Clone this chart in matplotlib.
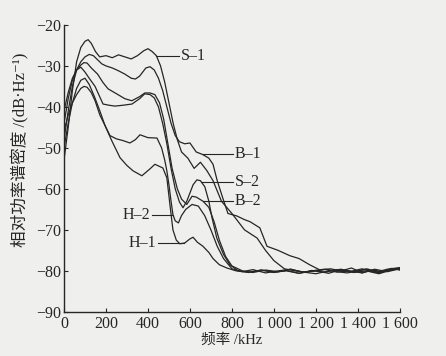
import numpy as np
import matplotlib
matplotlib.use('Agg')
import matplotlib.pyplot as plt

serif = ['Liberation Serif', 'Noto Sans CJK SC', 'DejaVu Sans']
plt.rcParams['font.family'] = serif

# frequency (kHz) and relative PSD (dB/Hz)
f_s1 = [0, 20, 40, 60, 80, 100, 115, 130, 150, 170, 200, 230, 260, 290, 320, 350, 380, 400, 420,
        440, 460, 480, 500, 520, 540, 560, 590, 620, 650, 680, 710, 750, 800, 860, 920, 960, 1000,
        1050, 1100, 1150, 1200, 1250, 1300, 1350, 1400, 1450, 1500, 1550, 1600]
v_s1 = [-53, -45, -36, -29, -25.5, -24, -23.6, -24.5, -26.5, -27.8, -27.5, -28, -27.3, -27.8, -28.3,
        -27.5, -26.3, -25.8, -26.5, -27.5, -30, -34, -39, -44, -48, -51, -52.5, -55, -53.5, -55.5,
        -58, -63, -66, -70, -72, -75, -77.5, -79.5, -80, -80.3, -80, -79.6, -80.2, -80.5, -80,
        -79.6, -80.4, -79.8, -79.3]

f_b1 = [0, 20, 40, 60, 80, 100, 120, 140, 160, 180, 200, 230, 260, 290, 320, 340, 360, 390, 410,
        430, 450, 470, 490, 510, 530, 550, 575, 600, 630, 660, 690, 710, 730, 755, 781, 823, 860,
        886, 933, 967, 1020, 1076, 1120, 1170, 1220, 1270, 1320, 1370, 1420, 1470, 1520, 1570, 1600]
v_b1 = [-48, -41, -35, -31, -29, -27.8, -27.2, -27.5, -28.5, -29.5, -30, -30.5, -31.2, -32, -33,
        -33.2, -32.5, -30.5, -30.2, -31, -33, -36, -40, -44, -47, -48.5, -49, -48.8, -51, -51.6,
        -52.5, -54, -58, -62, -66, -66.6, -67.5, -68, -69.5, -74, -75, -76.3, -77, -78.5, -79.8,
        -79.5, -80, -79.3, -80.5, -79.8, -80.2, -79.5, -79.8]

f_s2 = [0, 20, 40, 60, 80, 100, 120, 148, 170, 186, 215, 243, 280, 324, 360, 385, 410, 430, 450,
        470, 490, 510, 530, 550, 567, 585, 600, 615, 633, 650, 671, 690, 705, 728, 760, 790, 830,
        880, 940, 1000, 1060, 1120, 1180, 1240, 1300, 1360, 1420, 1480, 1540, 1600]
v_s2 = [-44, -38, -33.5, -31, -30.3, -31.5, -33, -35, -37.5, -39.3, -39.6, -39.8, -39.6, -39.3,
        -38, -36.8, -37, -37.8, -40, -44, -49, -55, -60, -63.2, -64.6, -63, -61, -59, -57.8,
        -58, -59.5, -63, -67, -72, -76, -78.5, -80, -80.3, -79.8, -80.4, -79.9, -80.6, -80,
        -79.6, -80.3, -80, -80.5, -79.6, -80.2, -79.5]

f_b2 = [0, 20, 40, 60, 80, 95, 110, 130, 160, 185, 210, 257, 290, 323, 360, 385, 410, 433, 455,
        475, 495, 515, 540, 560, 585, 610, 630, 662, 690, 715, 740, 770, 800, 850, 900, 960, 1020,
        1080, 1140, 1200, 1260, 1320, 1380, 1440, 1500, 1560, 1600]
v_b2 = [-41, -36.5, -33, -31, -29.8, -29.2, -29.3, -30.5, -32, -34, -35.6, -37, -38, -38.5, -37.5,
        -36.6, -36.6, -37, -39, -43, -49, -55, -60, -62.5, -63.8, -61.8, -62, -63, -64.5, -68,
        -72.5, -76.5, -78.8, -80, -80.4, -79.8, -80.2, -79.6, -80.4, -79.9, -80.6, -79.7, -80.3,
        -79.5, -80.6, -79.4, -79.7]

f_h2 = [0, 20, 40, 60, 80, 95, 110, 130, 148, 171, 195, 219, 250, 280, 314, 340, 362, 400, 443,
        465, 480, 490, 500, 510, 519, 530, 545, 560, 580, 610, 640, 670, 700, 730, 760, 800, 850,
        900, 960, 1020, 1080, 1140, 1200, 1260, 1320, 1380, 1440, 1500, 1560, 1600]
v_h2 = [-46, -42, -39, -37, -35.5, -35, -35.2, -36.5, -38.5, -42, -44.5, -47, -47.8, -48.2, -48.8,
        -48, -46.8, -47.5, -47.6, -50, -53, -55.6, -59, -63, -66.3, -67.8, -68.3, -66.5, -65,
        -63.8, -64.2, -66.5, -70, -74, -77, -79.5, -80.2, -79.7, -80.5, -80, -79.6, -80.3, -80.7,
        -80, -79.6, -80.4, -80, -80.7, -79.8, -79.4]

f_h1 = [0, 20, 40, 60, 80, 100, 120, 145, 171, 195, 228, 267, 300, 329, 371, 410, 433, 471, 490,
        505, 519, 535, 552, 575, 600, 615, 635, 662, 690, 710, 740, 776, 820, 880, 940, 1000, 1060,
        1120, 1180, 1240, 1300, 1360, 1420, 1480, 1540, 1600]
v_h1 = [-50, -44, -39, -35.5, -33.5, -33, -34.5, -37.5, -41, -44.5, -48.3, -52.4, -54.3, -55.6,
        -56.8, -55.1, -54, -54.9, -57.3, -64, -70, -72.5, -73.4, -73.2, -72.2, -71.8, -73, -74,
        -75.5, -77, -78.5, -79.3, -80, -80.4, -79.8, -80.3, -80, -80.6, -79.9, -80.4, -79.7,
        -80.2, -79.5, -80.4, -79.6, -79.2]

curves = {'S\u20131': (f_s1, v_s1), 'B\u20131': (f_b1, v_b1), 'S\u20132': (f_s2, v_s2),
          'B\u20132': (f_b2, v_b2), 'H\u20132': (f_h2, v_h2), 'H\u20131': (f_h1, v_h1)}

# label: (frequency where the leader touches the curve, leader end frequency)
labels = {'S\u20131': (440, 548), 'B\u20131': (660, 805), 'S\u20132': (655, 805),
          'B\u20132': (662, 805), 'H\u20132': (519, 418), 'H\u20131': (570, 447)}

x_ticks = [0, 200, 400, 600, 800, 1000, 1200, 1400, 1600]
x_ticklabels = ['0', '200', '400', '600', '800', '1 000', '1 200', '1 400', '1 600']
y_ticks = [-90, -80, -70, -60, -50, -40, -30, -20]

bg = '#efefed'
ink = '#262626'
fig = plt.figure(figsize=(4.46, 3.56), dpi=100, facecolor=bg)
ax = fig.add_axes([0.1435, 0.124, 0.753, 0.806])
ax.set_facecolor(bg)

for name, (f, v) in curves.items():
    ax.plot(f, v, color=ink, linewidth=0.9)

for name, (fx, tx) in labels.items():
    f, v = curves[name]
    vy = np.interp(fx, f, v)
    ha = 'left' if tx > fx else 'right'
    gap = 8 if ha == 'left' else -8
    ax.plot([fx, tx], [vy, vy], color=ink, linewidth=0.8)
    ax.text(tx + gap, vy, name, ha=ha, va='center', fontsize=11.5, color=ink, family=serif)

ax.set_xlim(0, 1600)
ax.set_ylim(-90, -20)
ax.set_xticks(x_ticks)
ax.set_xticklabels(x_ticklabels)
ax.set_yticks(y_ticks)
ax.tick_params(direction='in', length=3, width=0.8, labelsize=11.5, colors=ink, pad=3)
ax.tick_params(axis='y', pad=2)
for s in ['top', 'right']:
    ax.spines[s].set_visible(False)
for s in ['left', 'bottom']:
    ax.spines[s].set_linewidth(1.0)
    ax.spines[s].set_color(ink)

ax.set_xlabel('频率 /kHz', fontsize=10.5, color=ink, labelpad=1, family=serif)
ax.set_ylabel('相对功率谱密度 /(dB·Hz⁻¹)', fontsize=12, color=ink, family=serif)
ax.yaxis.set_label_coords(-0.102, 0.565)

plt.savefig('out.png', dpi=100, facecolor=bg)
